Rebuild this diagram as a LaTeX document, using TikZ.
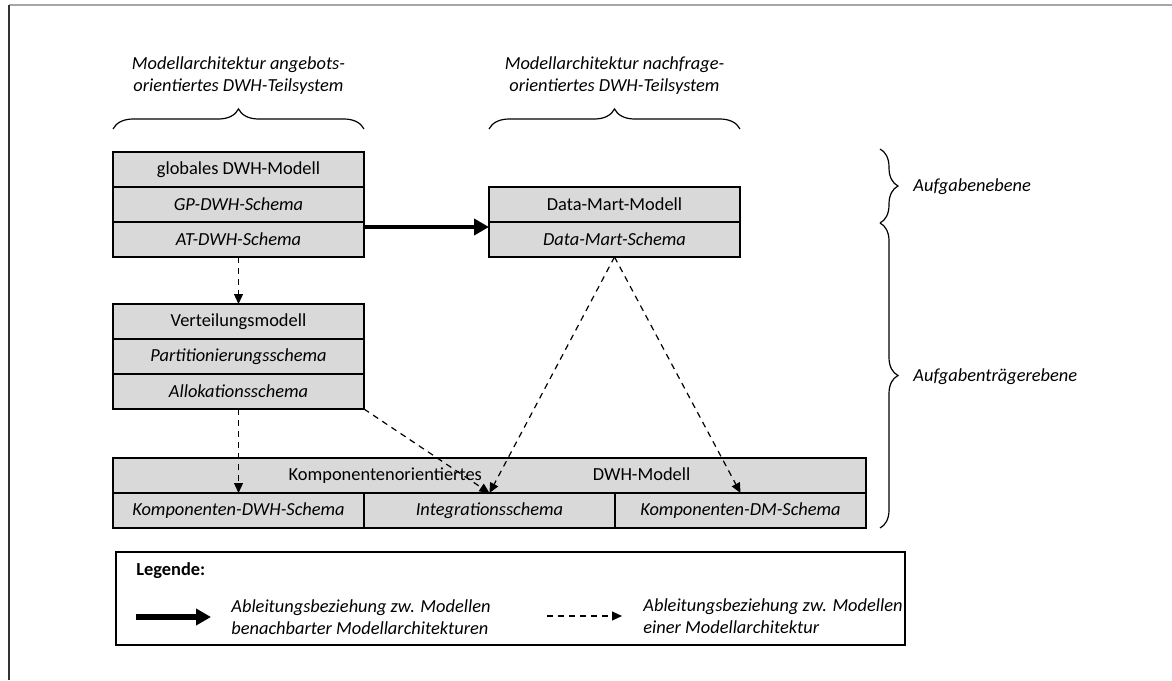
\documentclass[tikz,border=0pt]{standalone}
\usepackage{fontspec}
\setmainfont{Carlito}
\usepackage{tikz}
\usetikzlibrary{arrows.meta,positioning,decorations.pathreplacing}

\definecolor{boxgray}{RGB}{217,217,217}

\begin{document}
\begin{tikzpicture}[x=0.5pt, y=-0.5pt,
  every node/.style={font=\fontsize{9.2}{11}\selectfont},
  row/.style={draw, fill=boxgray, line width=0.8pt, minimum width=125.5pt, minimum height=17.5pt, inner sep=0pt, outer sep=0pt},
  schema/.style={row, font=\fontsize{9.2}{11}\selectfont\itshape},
  headtext/.style={align=center, font=\fontsize{9.2}{11}\selectfont\itshape},
  levtext/.style={anchor=west, inner sep=0pt, font=\fontsize{9.2}{11}\selectfont\itshape},
  legtext/.style={anchor=west, align=left, inner sep=0pt, font=\fontsize{9.2}{11}\selectfont\itshape},
  hbrace/.style={decorate, decoration={brace, amplitude=10pt}, line width=0.6pt},
  vbrace/.style={decorate, decoration={brace, amplitude=9pt}, line width=0.6pt},
  thickarrow/.style={-{Triangle[length=7.5pt, width=8pt]}, line width=2.2pt},
  dasharrow/.style={-{Triangle[length=5pt, width=4.5pt]}, line width=0.6pt, dash pattern=on 3pt off 2.5pt}]

\useasboundingbox (0,0) rectangle (1172,680);

% Frame
\draw[gray!70, line width=0.8pt] (9,5) -- (1172,5);
\draw[black!80, line width=1pt] (9,5) -- (9,680);

% Headings of the two model architectures
\node[headtext] (lefthead) at (238.5,76) {Modellarchitektur angebots-\\orientiertes DWH-Teilsystem};
\node[headtext] (righthead) at (614.5,76) {Modellarchitektur nachfrage-\\orientiertes DWH-Teilsystem};

% Supply side: global model
\node[row] (glob) at (238.5,169.5) {globales DWH-Modell};
\node[schema, below=0pt of glob] (gpschema) {GP-DWH-Schema};
\node[schema, below=0pt of gpschema] (atschema) {AT-DWH-Schema};

% Supply side: distribution model
\node[row] (verteil) at (238.5,321.5) {Verteilungsmodell};
\node[schema, below=0pt of verteil] (partschema) {Partitionierungsschema};
\node[schema, below=0pt of partschema] (allokschema) {Allokationsschema};

% Demand side
\node[row] (dmmodell) at (614.5,204.5) {Data-Mart-Modell};
\node[schema, below=0pt of dmmodell] (dmschema) {Data-Mart-Schema};

% Component oriented model
\node[row, minimum width=376.5pt] (kompmodell) at (489.5,475.5) {Komponentenorientiertes\hspace{55.5pt}DWH-Modell\hspace{40pt}};
\node[schema, anchor=north west] (kdwhschema) at (kompmodell.south west) {Komponenten-DWH-Schema};
\node[schema, right=0pt of kdwhschema] (integschema) {Integrationsschema};
\node[schema, right=0pt of integschema] (kdmschema) {Komponenten-DM-Schema};

% Braces over the architectures
\draw[hbrace] ([yshift=11.5pt]glob.north west) -- ([yshift=11.5pt]glob.north east);
\draw[hbrace] ([yshift=29pt]dmmodell.north west) -- ([yshift=29pt]dmmodell.north east);

% Levels
\coordinate (ebenetop) at (880,149);
\coordinate (ebenemid) at (880,223);
\coordinate (ebenebot) at (880,528);
\draw[vbrace] (ebenetop) -- (ebenemid);
\draw[vbrace] (ebenemid) -- (ebenebot);
\node[levtext] (aufgabe) at (913,187) {Aufgabenebene};
\node[levtext] (traeger) at (913,377) {Aufgabenträgerebene};

% Derivations
\draw[thickarrow] ([yshift=-2.5pt]atschema.north east) -- ([yshift=-2.5pt]dmschema.north west);
\draw[dasharrow] (atschema.south) -- (verteil.north);
\draw[dasharrow] (allokschema.south) -- (kdwhschema.north);
\draw[dasharrow] (allokschema.south east) -- (integschema.north);
\draw[dasharrow] (dmschema.south) -- (integschema.north);
\draw[dasharrow] (dmschema.south) -- (kdmschema.north);

% Legend
\node[draw, line width=0.8pt, minimum width=394.5pt, minimum height=46.5pt, inner sep=0pt] (legend) at (510.5,598.5) {};
\node[anchor=west, inner sep=0pt, font=\fontsize{9.2}{11}\selectfont\bfseries] (legtitle) at (136,571) {Legende:};
\coordinate (thickstart) at (136,617);
\coordinate (thickend) at (211,617);
\draw[thickarrow, line width=3pt] (thickstart) -- (thickend);
\node[legtext] (legthick) at (231,617) {Ableitungsbeziehung zw. Modellen\\benachbarter Modellarchitekturen};
\coordinate (dashstart) at (547,616);
\coordinate (dashend) at (622,616);
\draw[dasharrow] (dashstart) -- (dashend);
\node[legtext] (legdash) at (643,616) {Ableitungsbeziehung zw. Modellen\\einer Modellarchitektur};

\end{tikzpicture}
\end{document}
